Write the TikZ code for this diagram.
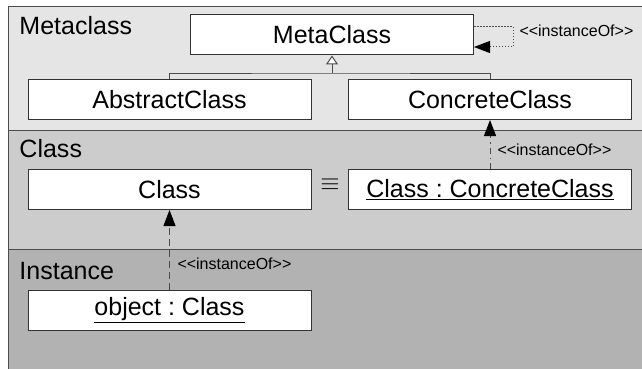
\documentclass[tikz,border=0pt]{standalone}
\usepackage{fontspec}
\setmainfont{Liberation Sans}
\usetikzlibrary{positioning,arrows.meta}
\frenchspacing
\newcommand{\stereotype}[1]{<\kern0pt<#1>\kern0pt>}

\begin{document}
\begin{tikzpicture}[x=1pt,y=-1pt,line width=1pt,
    class node/.style={draw=black!80,fill=white,minimum width=283pt,minimum height=40pt,
                       inner sep=0pt,font=\fontsize{25}{30}\selectfont},
    band label/.style={anchor=base west,inner sep=0pt,font=\fontsize{25}{30}\selectfont},
    stereo label/.style={anchor=base west,inner sep=0pt,font=\fontsize{16}{19}\selectfont},
    instance edge/.style={-{Triangle[length=16pt,width=12pt,color=black]},draw=black!70},
    general edge/.style={draw=black!70}]

        \useasboundingbox (0,0) rectangle (642,369);

        % Bands
        \fill[black!10] (8,7) rectangle (642,130);
        \fill[black!20] (8,130) rectangle (642,249);
        \fill[black!30] (8,249) rectangle (642,369);
        \draw[black!70] (8,369) -- (8,7) -- (642,7);
        \draw[black!70] (8,130) -- (642,130) (8,249) -- (642,249);

        \node[band label] (metaband) at (19,35) {Metaclass};
        \node[band label] (classband) at (19,157) {Class};
        \node[band label] (instband) at (19,279) {Instance};

        % Define classes
        \node[class node] (meta) at (332,35) {MetaClass};
        \node[class node] (abstract) at (169.5,99.5) {AbstractClass};
        \node[class node] (concrete) at (490,99.5) {ConcreteClass};
        \node[class node] (class) at (169.5,189.5) {Class};
        \node[class node] (classobj) at (490,189.5) {\underline{Class : ConcreteClass}};
        \node[class node] (object) at (169.5,310) {\underline{object : Class}};
        \node[font=\fontsize{27}{30}\selectfont,inner sep=0pt] (equiv) at (330,185) {$\equiv$};

        % Generalization
        \coordinate (fork) at (332,73);
        \draw[general edge] (abstract.north) |- (fork) -| (concrete.north);
        \draw[general edge,-{Triangle[open,length=9pt,width=12pt,fill=white]}] (fork) -- (meta.south);

        % instanceOf edges
        \draw[instance edge,dash pattern=on 1.5pt off 1.5pt] ([yshift=8pt]meta.east) -- ++(39,0) -- ++(0,20)
            -- ([yshift=-12pt]meta.east);
        \draw[instance edge,dash pattern=on 6pt off 4pt on 1.5pt off 4pt] (classobj.north) -- (concrete.south);
        \draw[instance edge,dash pattern=on 7pt off 4pt] (object.north) -- (class.south);

        \node[stereo label] (lblmeta) at (519,37) {\stereotype{instanceOf}};
        \node[stereo label] (lblclass) at (497,155) {\stereotype{instanceOf}};
        \node[stereo label] (lblobject) at (177,269) {\stereotype{instanceOf}};

\end{tikzpicture}
\end{document}
